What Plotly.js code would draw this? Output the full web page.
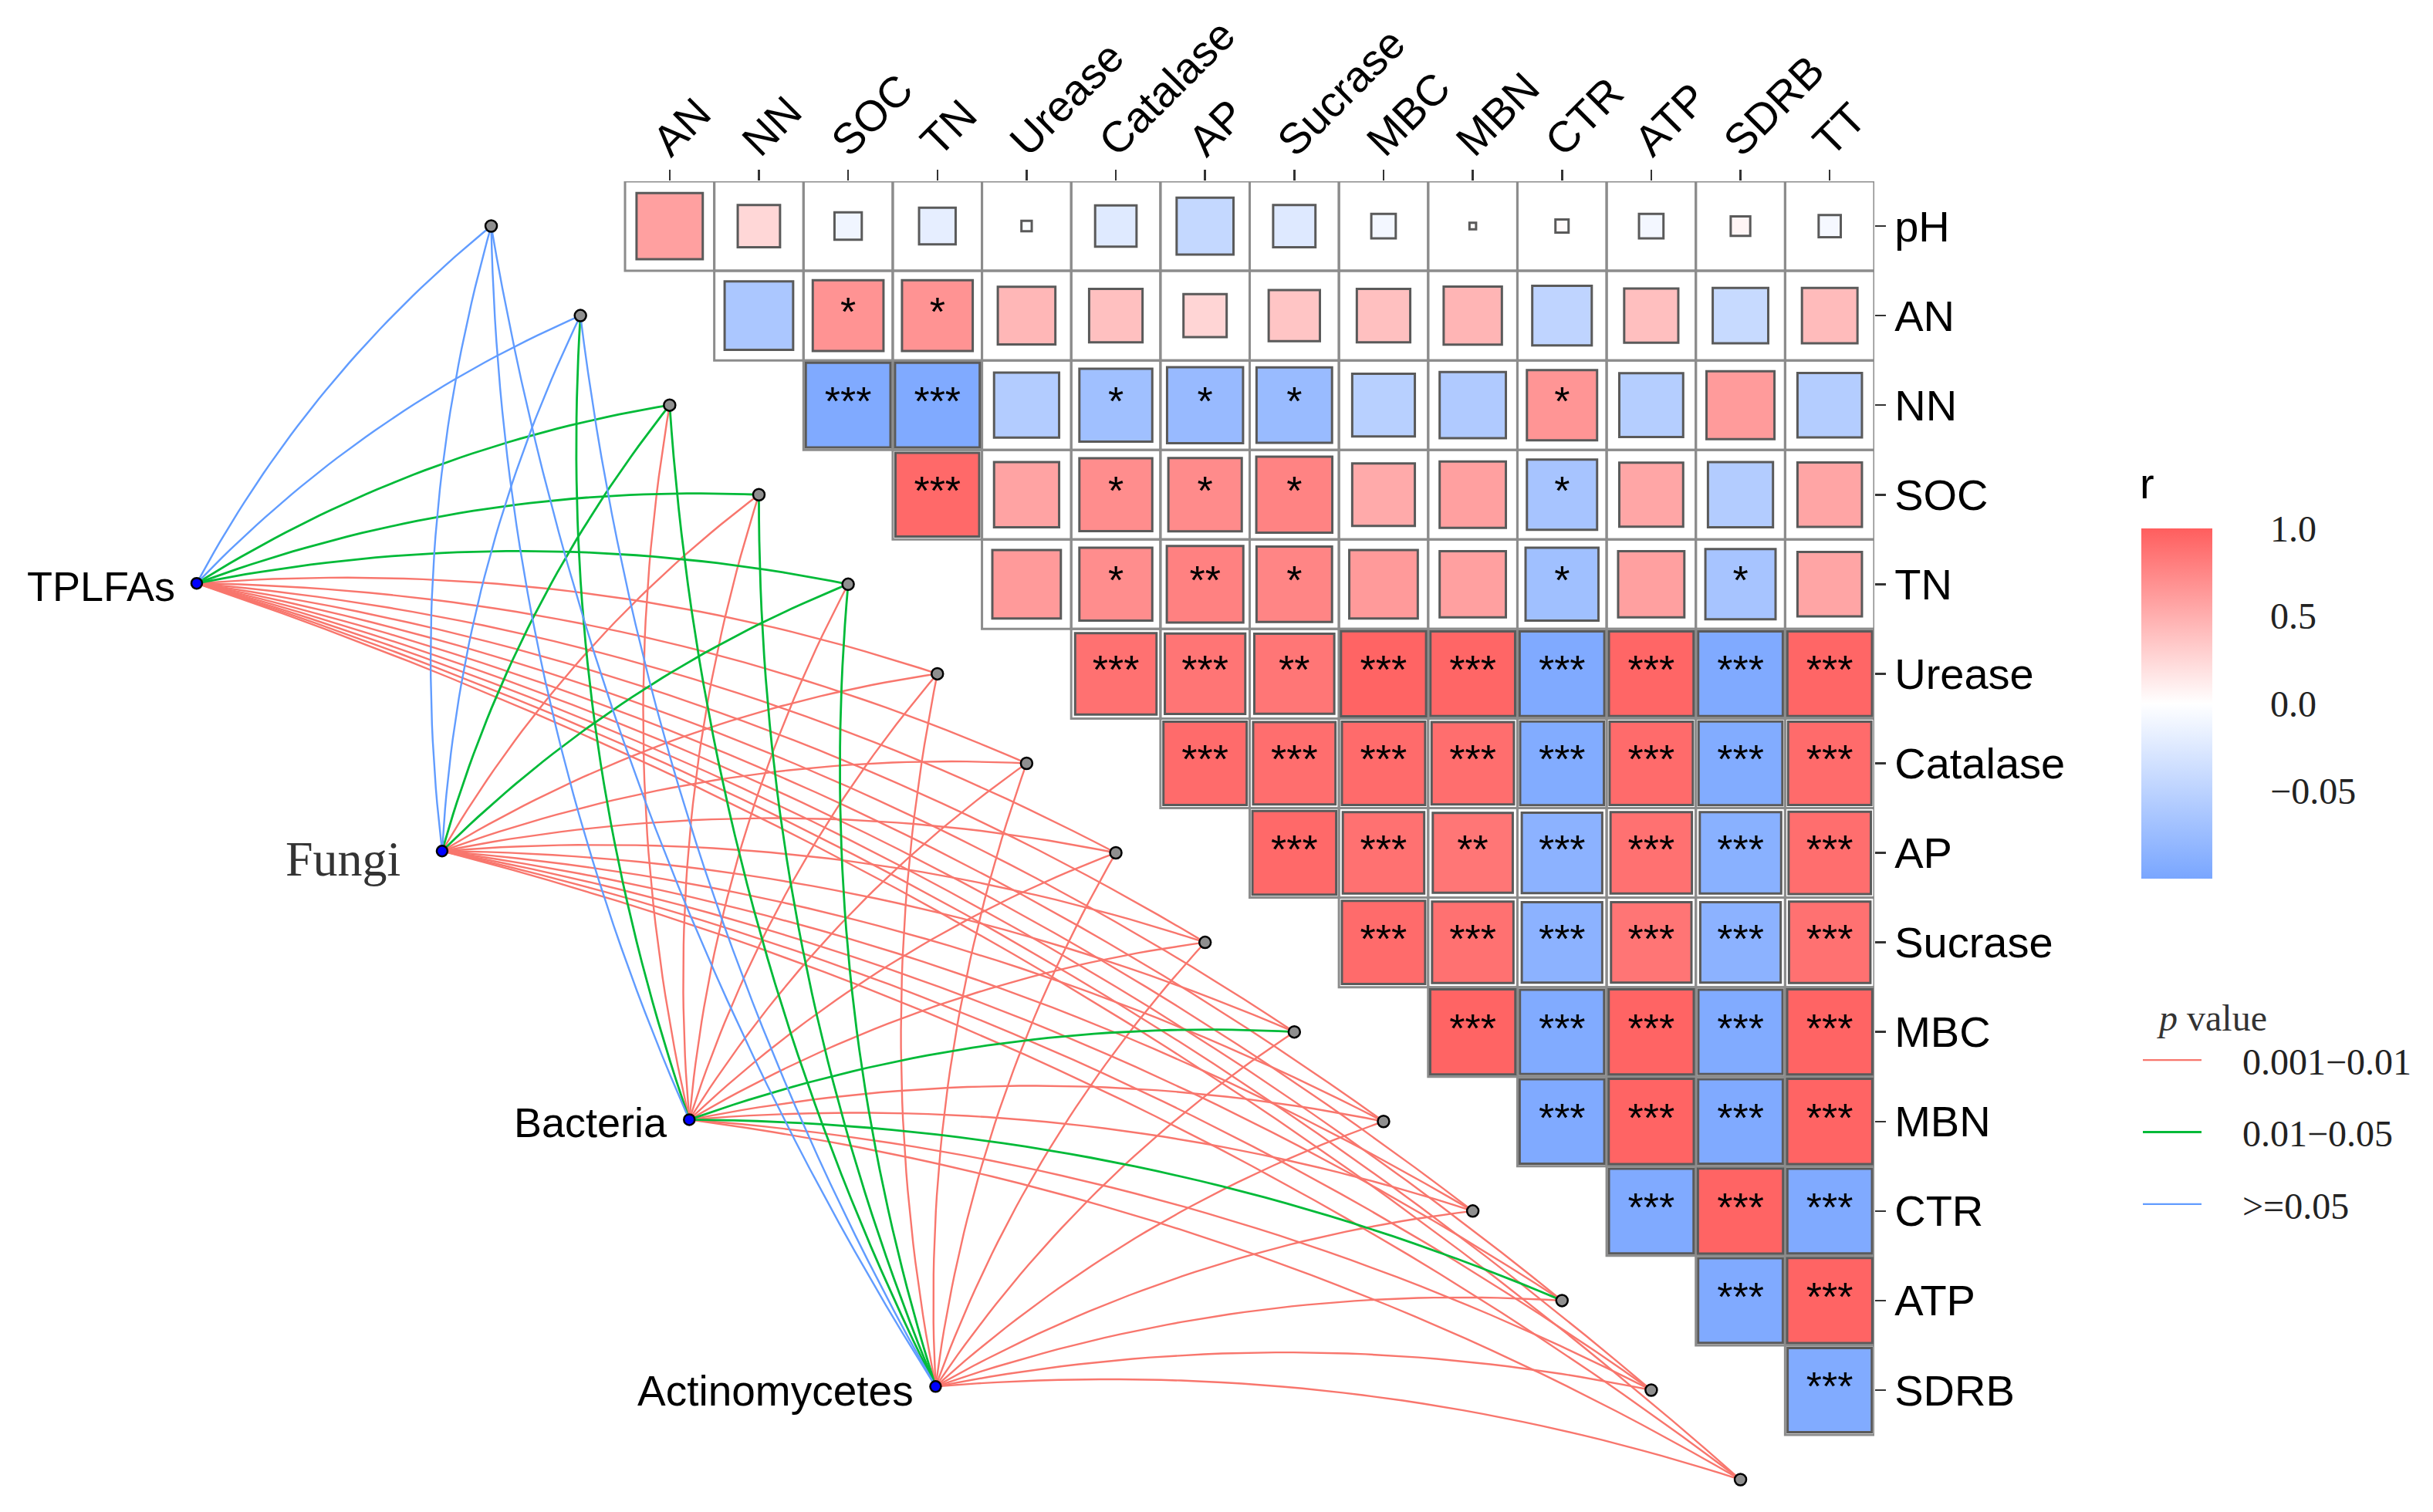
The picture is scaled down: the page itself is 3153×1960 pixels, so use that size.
<!DOCTYPE html>
<html><head><meta charset="utf-8">
<script src="https://cdn.plot.ly/plotly-3.0.1.min.js"></script>
<style>html,body{margin:0;padding:0;background:#fff}</style>
</head><body>
<div id="chart" style="width:3153px;height:1960px"></div>
<script>
// ================= DATA =================
const variables = ['pH','AN','NN','SOC','TN','Urease','Catalase','AP','Sucrase','MBC','MBN','CTR','ATP','SDRB','TT'];
const rowLabels = variables.slice(0, 14);
const colLabels = variables.slice(1);

// correlation r, upper triangle: row variable vs. every later variable
const r_pH       = [0.59, 0.25, -0.11, -0.19, -0.02, -0.24, -0.44, -0.25, -0.09, 0.01, 0.03, -0.09, 0.06, -0.075];
const r_AN       = [-0.63, 0.67, 0.67, 0.45, 0.39, 0.26, 0.36, 0.39, 0.46, -0.48, 0.40, -0.42, 0.42];
const r_NN       = [-0.95, -0.95, -0.57, -0.71, -0.77, -0.76, -0.53, -0.59, 0.66, -0.55, 0.62, -0.56];
const r_SOC      = [0.93, 0.57, 0.71, 0.72, 0.77, 0.53, 0.59, -0.66, 0.55, -0.57, 0.56];
const r_TN       = [0.63, 0.71, 0.78, 0.76, 0.63, 0.59, -0.71, 0.59, -0.66, 0.56];
const r_Urease   = [0.88, 0.86, 0.85, 0.96, 0.95, -0.95, 0.95, -0.95, 0.95];
const r_Catalase = [0.92, 0.90, 0.92, 0.90, -0.93, 0.92, -0.93, 0.92];
const r_AP       = [0.93, 0.88, 0.85, -0.86, 0.88, -0.88, 0.90];
const r_Sucrase  = [0.92, 0.88, -0.86, 0.86, -0.86, 0.88];
const r_MBC      = [0.96, -0.94, 0.96, -0.94, 0.96];
const r_MBN      = [-0.95, 0.96, -0.95, 0.96];
const r_CTR      = [-0.95, 0.96, -0.95];
const r_ATP      = [-0.95, 0.96];
const r_SDRB     = [-0.94];

// significance marks
const s_pH       = ['','','','','','','','','','','','','',''];
const s_AN       = ['','*','*','','','','','','','','','',''];
const s_NN       = ['***','***','','*','*','*','','','*','','',''];
const s_SOC      = ['***','','*','*','*','','','*','','',''];
const s_TN       = ['','*','**','*','','','*','','*',''];
const s_Urease   = ['***','***','**','***','***','***','***','***','***'];
const s_Catalase = ['***','***','***','***','***','***','***','***'];
const s_AP       = ['***','***','**','***','***','***','***'];
const s_Sucrase  = ['***','***','***','***','***','***'];
const s_MBC      = ['***','***','***','***','***'];
const s_MBN      = ['***','***','***','***'];
const s_CTR      = ['***','***','***'];
const s_ATP      = ['***','***'];
const s_SDRB     = ['***'];

// links: microbial group -> each soil variable, p-value class index
const microbes = ['TPLFAs','Fungi','Bacteria','Actinomycetes'];
const pClassNames = ['0.001\u22120.01','0.01\u22120.05','>=0.05'];
const p_TPLFAs        = [2,2,1,1,1,0,0,0,0,0,0,0,0,0,0];
const p_Fungi         = [2,2,1,0,1,0,0,0,0,0,0,0,0,0,0];
const p_Bacteria      = [2,1,0,0,0,0,0,0,0,1,0,0,1,0,0];
const p_Actinomycetes = [2,2,1,1,1,0,0,0,0,0,0,0,0,0,0];

const cbTickVals = [1, 0.5, 0, -0.5];
const cbTickText = ['1.0', '0.5', '0.0', '\u22120.05'];
const cbTitle = 'r';
const legendTitle = '<i>p</i> value';

// ================= STYLE / LAYOUT =================
const W = 3153, H = 1960;
const gridL = 810, gridR = 2429, gridT = 235, gridB = 1860, plotB = 1950;
const cellPx = (gridR - gridL) / 14;
const cellPy = (gridB - gridT) / 14;
const xRange = [-0.5 - gridL / cellPx, 13.5];
const yRange = [-0.5 + (plotB - gridT) / cellPy, -0.5];
const paperX = px => px / gridR;
const paperY = py => 1 - (py - gridT) / (plotB - gridT);

const rRows = [r_pH, r_AN, r_NN, r_SOC, r_TN, r_Urease, r_Catalase, r_AP, r_Sucrase, r_MBC, r_MBN, r_CTR, r_ATP, r_SDRB];
const sRows = [s_pH, s_AN, s_NN, s_SOC, s_TN, s_Urease, s_Catalase, s_AP, s_Sucrase, s_MBC, s_MBN, s_CTR, s_ATP, s_SDRB];
const pRows = [p_TPLFAs, p_Fungi, p_Bacteria, p_Actinomycetes];

// network layout (axis units): source node positions
const srcPos = [[-5.30, 3.99], [-2.55, 6.98], [0.22, 9.98], [2.98, 12.96]];
const linkColors = ['#F8766D', '#00BA38', '#619CFF'];
const linkWidths = [2.4, 2.8, 2.4];
const curvature = 0.1;
const srcLabelStyle = [
  {family:'Liberation Sans', size:54, color:'#000', xshift:-26, yshift:-4},
  {family:'Liberation Serif', size:64, color:'#333', xshift:-52, yshift:-10},
  {family:'Liberation Sans', size:54, color:'#000', xshift:-26, yshift:-4},
  {family:'Liberation Sans', size:55, color:'#000', xshift:-26, yshift:-6}
];
const legendPad = '&nbsp;&nbsp;&nbsp;&nbsp;';

const colorscale = [[0, '#79A6FF'], [0.5, '#FFFFFF'], [1, '#FF5E5E']];

// ---- cells ----
const sqX = [], sqY = [], sqR = [], sqSize = [], stX = [], stY = [], stT = [];
const shapes = [];
rRows.forEach((row, i) => {
  row.forEach((r, k) => {
    const j = i + k;            // column index (column variable = variables[j+1])
    shapes.push({type:'rect', xref:'x', yref:'y', x0:j-0.5, x1:j+0.5, y0:i-0.5, y1:i+0.5,
      line:{color:'#8C8C8C', width:3}, fillcolor:'rgba(0,0,0,0)', layer:'below'});
    sqX.push(j); sqY.push(i); sqR.push(r);
    sqSize.push(Math.max(4, Math.sqrt(Math.abs(r)) * cellPx - 3));
    if (sRows[i][k]) { stX.push(j); stY.push(i); stT.push(sRows[i][k]); }
  });
});

// ---- links ----
function bez(s, t, n) {
  const dx = t[0]-s[0], dy = t[1]-s[1];
  const cx = (s[0]+t[0])/2 + curvature*dy, cy = (s[1]+t[1])/2 - curvature*dx;
  const xs = [], ys = [];
  for (let q = 0; q <= n; q++) {
    const u = q/n, a = (1-u)*(1-u), b = 2*u*(1-u), c = u*u;
    xs.push(a*s[0] + b*cx + c*t[0]); ys.push(a*s[1] + b*cy + c*t[1]);
  }
  return [xs, ys];
}
const tgtPos = variables.map((v, k) => [k - 2, k]);
const linkX = [[], [], []], linkY = [[], [], []];
pRows.forEach((prow, m) => {
  prow.forEach((pc, k) => {
    const [xs, ys] = bez(srcPos[m], tgtPos[k], 40);
    linkX[pc].push(...xs, null); linkY[pc].push(...ys, null);
  });
});

const traces = [];
[0, 1, 2].forEach(c => traces.push({
  type:'scatter', mode:'lines', x:linkX[c], y:linkY[c], name:legendPad + pClassNames[c],
  line:{color:linkColors[c], width:linkWidths[c]}, hoverinfo:'skip',
  legendgroup:'g'+c, legendrank:c+1, showlegend:true
}));
traces.push({type:'scatter', mode:'markers', x:tgtPos.map(p=>p[0]), y:tgtPos.map(p=>p[1]),
  marker:{size:15, color:'#8F8F8F', opacity:1, line:{color:'#000', width:2.5}}, showlegend:false, hoverinfo:'skip'});
traces.push({type:'scatter', mode:'markers', x:srcPos.map(p=>p[0]), y:srcPos.map(p=>p[1]),
  marker:{size:14, color:'#0000FF', opacity:1, line:{color:'#000', width:2.5}}, showlegend:false, hoverinfo:'skip'});
traces.push({type:'scatter', mode:'markers', x:sqX, y:sqY, showlegend:false, hoverinfo:'skip',
  marker:{symbol:'square', size:sqSize, opacity:1, color:sqR, cmin:-1, cmax:1, colorscale:colorscale,
    line:{color:'#5A5A5A', width:3}, showscale:true,
    colorbar:{x:2775/W, xref:'container', xanchor:'left', xpad:0,
      y:1-1042/H, yref:'container', yanchor:'middle', ypad:0,
      len:454, lenmode:'pixels', thickness:92, thicknessmode:'pixels', outlinewidth:0,
      tickvals:cbTickVals, ticktext:cbTickText, ticks:'outside', ticklen:66, tickcolor:'rgba(0,0,0,0)',
      tickfont:{family:'Liberation Serif', size:48, color:'#222'}}}});
traces.push({type:'scatter', mode:'text', x:stX, y:stY, text:stT, textposition:'middle center',
  textfont:{family:'Liberation Sans', size:52, color:'#000'}, showlegend:false, hoverinfo:'skip'});

const annotations = microbes.map((name, m) => ({
  x:srcPos[m][0], y:srcPos[m][1], xref:'x', yref:'y', text:name, showarrow:false,
  xanchor:'right', yanchor:'middle', xshift:srcLabelStyle[m].xshift, yshift:srcLabelStyle[m].yshift,
  font:{family:srcLabelStyle[m].family, size:srcLabelStyle[m].size, color:srcLabelStyle[m].color}
}));
annotations.push({x:paperX(2771), y:paperY(626), xref:'paper', yref:'paper', text:cbTitle, showarrow:false,
  xanchor:'left', yanchor:'middle', font:{family:'Liberation Sans', size:56, color:'#000'}});

const layout = {
  width:W, height:H, autosize:false,
  margin:{l:0, r:W - gridR, t:gridT, b:H - plotB, pad:0},
  paper_bgcolor:'#fff', plot_bgcolor:'#fff',
  xaxis:{range:xRange, side:'top', tickvals:colLabels.map((c,i)=>i), ticktext:colLabels, tickangle:-45,
    ticks:'outside', ticklen:14, tickwidth:2.5, tickcolor:'#333', showgrid:false, zeroline:false, showline:false,
    ticklabelstandoff:-16, ticklabelshift:-18,
    tickfont:{family:'Liberation Sans', size:56, color:'#000'}, fixedrange:true},
  yaxis:{range:yRange, side:'right', tickvals:rowLabels.map((c,i)=>i), ticktext:rowLabels,
    ticks:'outside', ticklen:14, tickwidth:2.5, tickcolor:'#333', showgrid:false, zeroline:false, showline:false,
    tickfont:{family:'Liberation Sans', size:56, color:'#000'}, fixedrange:true},
  shapes:shapes, annotations:annotations,
  showlegend:true,
  legend:{x:2772/W, xref:'container', xanchor:'left', y:1-1274/H, yref:'container', yanchor:'top',
    title:{text:'&nbsp;&nbsp;' + legendTitle, side:'top', font:{family:'Liberation Serif', size:48, color:'#333'}},
    font:{family:'Liberation Serif', size:48, color:'#222'}, itemwidth:76, tracegroupgap:28,
    bgcolor:'rgba(0,0,0,0)', borderwidth:0, traceorder:'grouped'}
};

Plotly.newPlot('chart', traces, layout, {staticPlot:true, displayModeBar:false});
</script>
</body></html>
